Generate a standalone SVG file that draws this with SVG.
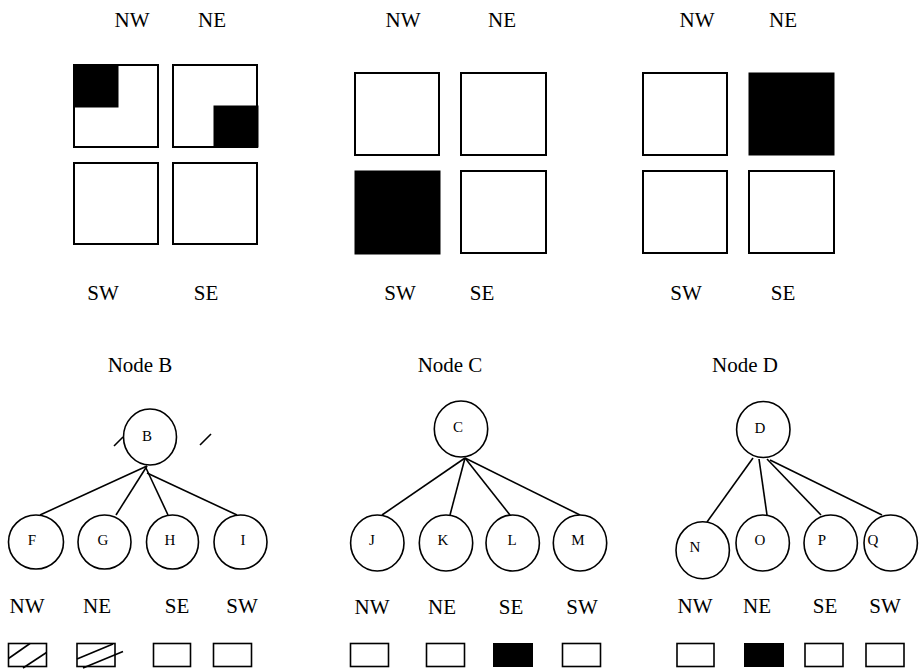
<svg xmlns="http://www.w3.org/2000/svg" width="921" height="669" viewBox="0 0 921 669">
<style>
text{font-family:'Liberation Serif','Times New Roman','DejaVu Serif',serif;fill:#000;text-anchor:middle}
.lb{font-size:21px}
.nl{font-size:15px}
.sq{fill:#fff;stroke:#000;stroke-width:2}
.bk{fill:#000;stroke:#000;stroke-width:1}
.c{fill:#fff;stroke:#000;stroke-width:1.6}
.e{stroke:#000;stroke-width:1.6;fill:none}
.bx{fill:#fff;stroke:#000;stroke-width:1.6}
</style>
<rect width="921" height="669" fill="#fff"/>

<g id="panel1">
<text class="lb" x="132" y="27">NW</text>
<text class="lb" x="212" y="27">NE</text>
<rect class="sq" x="74" y="65" width="84" height="82"/>
<rect class="bk" x="74" y="65" width="44" height="42"/>
<rect class="sq" x="173" y="65" width="84" height="82"/>
<rect class="bk" x="214" y="106" width="44" height="41"/>
<rect class="sq" x="74" y="163" width="84" height="81"/>
<rect class="sq" x="173" y="163" width="84" height="81"/>
<text class="lb" x="103" y="300">SW</text>
<text class="lb" x="206" y="300">SE</text>
</g>

<g id="panel2">
<text class="lb" x="403" y="27">NW</text>
<text class="lb" x="502" y="27">NE</text>
<rect class="sq" x="355" y="73" width="84" height="82"/>
<rect class="sq" x="461" y="73" width="85" height="82"/>
<rect class="bk" x="355" y="171" width="85" height="83"/>
<rect class="sq" x="461" y="171" width="85" height="82"/>
<text class="lb" x="400" y="300">SW</text>
<text class="lb" x="482" y="300">SE</text>
</g>

<g id="panel3">
<text class="lb" x="697" y="27">NW</text>
<text class="lb" x="783" y="27">NE</text>
<rect class="sq" x="643" y="73" width="84" height="82"/>
<rect class="bk" x="749" y="73" width="85" height="82"/>
<rect class="sq" x="643" y="171" width="84" height="82"/>
<rect class="sq" x="749" y="171" width="85" height="82"/>
<text class="lb" x="686" y="300">SW</text>
<text class="lb" x="783" y="300">SE</text>
</g>

<g id="titles">
<text class="lb" x="140" y="372">Node B</text>
<text class="lb" x="450" y="372">Node C</text>
<text class="lb" x="745" y="372">Node D</text>
</g>

<g id="connectors">
<line class="e" x1="147" y1="466" x2="40" y2="515"/>
<line class="e" x1="147" y1="466" x2="116" y2="515"/>
<line class="e" x1="146" y1="468" x2="168" y2="515"/>
<line class="e" x1="147" y1="473" x2="237" y2="515"/>
<line class="e" x1="114" y1="446" x2="123" y2="437"/>
<line class="e" x1="200" y1="445" x2="211" y2="434"/>
<line class="e" x1="465" y1="458" x2="382" y2="515"/>
<line class="e" x1="465" y1="458" x2="450" y2="515"/>
<line class="e" x1="465" y1="458" x2="510" y2="515"/>
<line class="e" x1="465" y1="458" x2="580" y2="515"/>
<line class="e" x1="753" y1="458" x2="707" y2="522"/>
<line class="e" x1="759" y1="459" x2="767" y2="515"/>
<line class="e" x1="767" y1="459" x2="821" y2="515"/>
<line class="e" x1="770" y1="460" x2="882" y2="515"/>
</g>

<g id="node-B"><ellipse class="c" cx="150" cy="437" rx="26.5" ry="28"/><text class="nl" x="147" y="441">B</text></g>
<g id="node-F"><ellipse class="c" cx="36" cy="542" rx="27.5" ry="27"/><text class="nl" x="32" y="545">F</text></g>
<g id="node-G"><ellipse class="c" cx="104.5" cy="542" rx="26.5" ry="27"/><text class="nl" x="103" y="545">G</text></g>
<g id="node-H"><ellipse class="c" cx="172.5" cy="542" rx="26" ry="27"/><text class="nl" x="170" y="545">H</text></g>
<g id="node-I"><ellipse class="c" cx="240.5" cy="542" rx="26.5" ry="27"/><text class="nl" x="243" y="545">I</text></g>

<g id="node-C"><ellipse class="c" cx="461" cy="429" rx="26.7" ry="28"/><text class="nl" x="458" y="432">C</text></g>
<g id="node-J"><ellipse class="c" cx="377.3" cy="543" rx="26.7" ry="28"/><text class="nl" x="372" y="545">J</text></g>
<g id="node-K"><ellipse class="c" cx="446" cy="543" rx="26.7" ry="28"/><text class="nl" x="443" y="545">K</text></g>
<g id="node-L"><ellipse class="c" cx="512.7" cy="543" rx="26.7" ry="28"/><text class="nl" x="512" y="545">L</text></g>
<g id="node-M"><ellipse class="c" cx="580" cy="543" rx="26.7" ry="28"/><text class="nl" x="578" y="545">M</text></g>

<g id="node-D"><ellipse class="c" cx="763.3" cy="429.5" rx="26.7" ry="28"/><text class="nl" x="760" y="433">D</text></g>
<g id="node-N"><ellipse class="c" cx="702.7" cy="550.3" rx="26.7" ry="28.5"/><text class="nl" x="695" y="552">N</text></g>
<g id="node-O"><ellipse class="c" cx="762.7" cy="543" rx="26.7" ry="28"/><text class="nl" x="760" y="545">O</text></g>
<g id="node-P"><ellipse class="c" cx="830.7" cy="543" rx="26.7" ry="28"/><text class="nl" x="822" y="545">P</text></g>
<g id="node-Q"><ellipse class="c" cx="890.7" cy="543" rx="26.7" ry="28"/><text class="nl" x="873" y="545">Q</text></g>

<g id="row-B">
<text class="lb" x="27" y="613">NW</text>
<text class="lb" x="97" y="613">NE</text>
<text class="lb" x="177" y="613">SE</text>
<text class="lb" x="242" y="613">SW</text>
<rect class="bx" x="8.5" y="643.5" width="38" height="23"/>
<line class="e" x1="8.5" y1="658.5" x2="30" y2="643.5"/>
<line class="e" x1="23" y1="668" x2="46.5" y2="652.5"/>
<rect class="bx" x="77" y="643.5" width="38" height="23"/>
<line class="e" x1="77" y1="659" x2="113" y2="644"/>
<line class="e" x1="83" y1="668" x2="123" y2="651.5"/>
<rect class="bx" x="153.5" y="643.5" width="37" height="23"/>
<rect class="bx" x="213.5" y="643.5" width="38" height="23"/>
</g>

<g id="row-C">
<text class="lb" x="372" y="614">NW</text>
<text class="lb" x="442" y="614">NE</text>
<text class="lb" x="511" y="614">SE</text>
<text class="lb" x="582" y="614">SW</text>
<rect class="bx" x="350.5" y="643.5" width="38" height="23"/>
<rect class="bx" x="426.5" y="643.5" width="38" height="23"/>
<rect class="bk" x="493.5" y="643.5" width="39" height="23"/>
<rect class="bx" x="562.5" y="643.5" width="38" height="23"/>
</g>

<g id="row-D">
<text class="lb" x="695" y="613">NW</text>
<text class="lb" x="757" y="613">NE</text>
<text class="lb" x="825" y="613">SE</text>
<text class="lb" x="885" y="613">SW</text>
<rect class="bx" x="677" y="643.5" width="37" height="23"/>
<rect class="bk" x="744.5" y="643.5" width="39" height="23"/>
<rect class="bx" x="805" y="643.5" width="38" height="23"/>
<rect class="bx" x="866" y="643.5" width="38" height="23"/>
</g>
</svg>
